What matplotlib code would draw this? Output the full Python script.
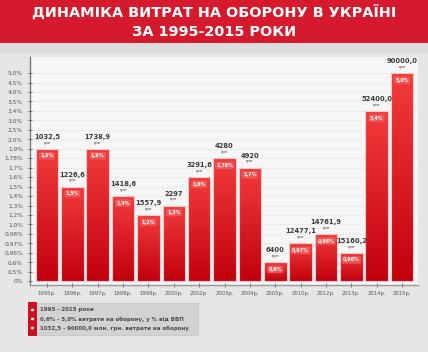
import matplotlib
matplotlib.use("Agg")
import matplotlib.pyplot as plt
import numpy as np
from matplotlib.patches import Rectangle
from matplotlib.colors import LinearSegmentedColormap

years = ["1995р.", "1996р.", "1997р.", "1998р.", "1999р.", "2000р.", "2002р.", "2003р.",
         "2004р.", "2005р.", "2010р.", "2012р.", "2013р.", "2014р.", "2015р."]
spend = ["1032,5", "1226,6", "1738,9", "1418,6", "1557,9", "2297", "3291,6", "4280",
         "4920", "6400", "12477,1", "14761,9", "15160,2", "52400,0", "90000,0"]
pct = ["1,9%", "1,5%", "1,9%", "1,4%", "1,2%", "1,3%", "1,6%", "1,78%",
       "1,7%", "0,6%", "0,97%", "0,98%", "0,96%", "3,4%", "5,0%"]
ytick_labels = ["0%", "0,5%", "0,6%", "0,96%", "0,97%", "0,98%", "1,0%", "1,2%", "1,3%",
                "1,4%", "1,5%", "1,6%", "1,7%", "1,78%", "1,9%", "2,0%", "2,5%", "3,0%",
                "3,4%", "3,5%", "4,0%", "4,5%", "5,0%"]
legend_lines = ["1995 - 2015 роки",
                "0,6% - 5,0% витрати на оборону, у % від ВВП",
                "1032,5 - 90000,0 млн. грн. витрати на оборону"]
title_lines = ["ДИНАМІКА ВИТРАТ НА ОБОРОНУ В УКРАЇНІ", "ЗА 1995-2015 РОКИ"]

W, H = 428, 352
fig = plt.figure(figsize=(W / 100, H / 100), dpi=100)
fig.patch.set_facecolor("#e6e6e6")

def fx(px):
    return px / W

def fy(py):
    return 1 - py / H

# title band
fig.patches.append(Rectangle((0, fy(43)), 1, 43 / H, transform=fig.transFigure,
                             facecolor="#d41a2c", edgecolor="none", zorder=0))
fig.patches.append(Rectangle((0, fy(54)), 1, 11 / H, transform=fig.transFigure,
                             facecolor="#dcdcdc", edgecolor="none", zorder=0))
fig.text(0.5, fy(12.5), title_lines[0], ha="center", va="center", color="white",
         fontsize=10.4, fontweight="bold", family="DejaVu Sans")
fig.text(0.5, fy(32.5), title_lines[1], ha="center", va="center", color="white",
         fontsize=10.4, fontweight="bold", family="DejaVu Sans")

ax = fig.add_axes([fx(30), fy(285), fx(418) - fx(30), (285 - 57) / H])
ax.set_facecolor("#f6f6f6")

# heights = index of percent value on the (categorical) y scale
heights = np.array([ytick_labels.index(p) for p in pct], dtype=float)
x = np.arange(len(years))

ax.set_xlim(-0.67, 14.63)
ax.set_ylim(-0.4, 23.7)

for i in range(len(ytick_labels)):
    ax.axhline(i, color="#e6e6e6", lw=0.5, zorder=0)

bars = ax.bar(x, heights, width=0.89, color="none", edgecolor="#f6caca", linewidth=0.8, zorder=2)

grad = np.linspace(0, 1, 256).reshape(-1, 1)
cmap = LinearSegmentedColormap.from_list("rg", ["#c2000e", "#f23c3c"])
for b in bars:
    x0, w, h = b.get_x(), b.get_width(), b.get_height()
    im = ax.imshow(grad, extent=[x0, x0 + w, 0, h], origin="lower", aspect="auto",
                   cmap=cmap, zorder=1.5)
    im.set_clip_path(b)

for xi, h, s, p in zip(x, heights, spend, pct):
    ax.text(xi, h + 0.95, s, ha="center", va="bottom", fontsize=4.9, fontweight="bold",
            color="#3a3a3a")
    ax.text(xi, h + 0.45, "грн", ha="center", va="bottom", fontsize=3.0, color="#3a3a3a")
    ax.text(xi, h - 0.75, p, ha="center", va="center", fontsize=3.5, fontweight="bold",
            color="white", zorder=4,
            bbox=dict(boxstyle="round,pad=0.25,rounding_size=0.3", facecolor="#f25555",
                      edgecolor="none"))

ax.set_yticks(range(len(ytick_labels)))
ax.set_yticklabels(ytick_labels)
ax.set_xticks(x)
ax.set_xticklabels(years)
ax.tick_params(axis="y", labelsize=4.2, colors="#555555", length=3, direction="inout", width=0.6)
ax.tick_params(axis="x", labelsize=3.8, colors="#555555", length=3, direction="inout", width=0.6, pad=3)
for side in ["top", "right"]:
    ax.spines[side].set_visible(False)
ax.spines["left"].set_color("#777777")
ax.spines["bottom"].set_color("#999999")
ax.spines["left"].set_linewidth(1.0)
ax.spines["bottom"].set_linewidth(1.0)

# legend box
fig.patches.append(Rectangle((fx(28), fy(335)), fx(198) - fx(28), 32 / H,
                             transform=fig.transFigure, facecolor="#d2d2d2",
                             edgecolor="#c4c4c4", lw=0.5, zorder=1))
fig.patches.append(Rectangle((fx(28), fy(336)), fx(37) - fx(28), 34 / H,
                             transform=fig.transFigure, facecolor="#d0101e",
                             edgecolor="none", zorder=2))
for k, line in enumerate(legend_lines):
    yy = fy(310 + 9 * k)
    fig.patches.append(plt.Circle((fx(32.5), yy), 1.6 / W, transform=fig.transFigure,
                                  facecolor="white", edgecolor="none", zorder=3))
    fig.text(fx(40), yy, line, ha="left", va="center", fontsize=3.95, fontweight="bold",
             color="#4a4a4a", zorder=3)

fig.savefig("out.png", dpi=100, facecolor=fig.get_facecolor())
